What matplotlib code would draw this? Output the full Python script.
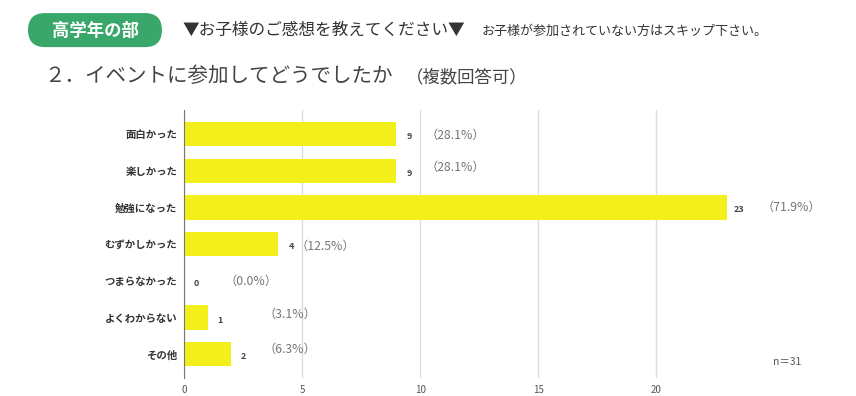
import matplotlib.pyplot as plt
from matplotlib.patches import FancyBboxPatch

plt.rcParams['font.family'] = ['Noto Sans CJK JP', 'DejaVu Sans']

# data
categories = ['面白かった', '楽しかった', '勉強になった', 'むずかしかった',
              'つまらなかった', 'よくわからない', 'その他']
counts = [9, 9, 23, 4, 0, 1, 2]
percents = ['（28.1%）', '（28.1%）', '（71.9%）', '（12.5%）', '（0.0%）', '（3.1%）', '（6.3%）']
x_ticks = [0, 5, 10, 15, 20]
n_total = 31

# style
bar_color = '#f3ef1b'
# offset of percent label from bar end (points), label y shift (rows)
pct_offset = [42, 42, 46, 34, 48, 59, 42]
pct_dy = [0.03, -0.08, 0.0, 0.05, 0.0, -0.1, -0.14]

fig = plt.figure(figsize=(8.56, 3.96), dpi=100)
ax = fig.add_axes([0.215, 0.045, 0.717, 0.677])

y = list(range(len(categories)))
ax.barh(y, counts, height=0.66, color=bar_color, zorder=3)
ax.set_ylim(6.65, -0.65)
ax.set_xlim(0, 26)
ax.set_xticks(x_ticks)
ax.set_yticks(y)
ax.set_yticklabels(categories, fontsize=7.5, fontweight='bold', color='#333333')
ax.tick_params(axis='x', length=0, labelsize=7, labelcolor='#555555', pad=5)
ax.tick_params(axis='y', length=0, pad=5)
ax.grid(axis='x', color='#dddddd', linewidth=1, zorder=0)
for s in ['top', 'right', 'bottom']:
    ax.spines[s].set_visible(False)
ax.spines['left'].set_color('#777777')
ax.spines['left'].set_zorder(4)

for i, (c, p) in enumerate(zip(counts, percents)):
    ax.annotate(str(c), (c, i + 0.07), xytext=(9, 0), textcoords='offset points',
                ha='center', va='center', fontsize=6.5, fontweight='bold', color='#444444')
    ax.annotate(p, (c, i + pct_dy[i]), xytext=(pct_offset[i], 0), textcoords='offset points',
                ha='center', va='center', fontsize=8.8, color='#777777')

fig.text(0.903, 0.085, f'n＝{n_total}', ha='left', va='center', fontsize=7.5, color='#555555')

# header
box = FancyBboxPatch((0.0327, 0.881), 0.1565, 0.086, boxstyle='round,pad=0,rounding_size=0.02',
                     transform=fig.transFigure, facecolor='#3aa76a', edgecolor='none',
                     mutation_aspect=856 / 396)
fig.patches.append(box)
fig.text(0.111, 0.923, '高学年の部', ha='center', va='center', fontsize=12.5,
         fontweight='bold', color='white')
fig.text(0.213, 0.923, '▼お子様のご感想を教えてください▼', ha='left', va='center',
         fontsize=12, color='#333333')
fig.text(0.563, 0.920, 'お子様が参加されていない方はスキップ下さい。', ha='left', va='center',
         fontsize=9.4, color='#333333')
fig.text(0.052, 0.808, '２．イベントに参加してどうでしたか', ha='left', va='center',
         fontsize=14.8, color='#444444')
fig.text(0.474, 0.805, '（複数回答可）', ha='left', va='center',
         fontsize=12.5, color='#444444')

fig.savefig('out.png', dpi=100, facecolor='white')
